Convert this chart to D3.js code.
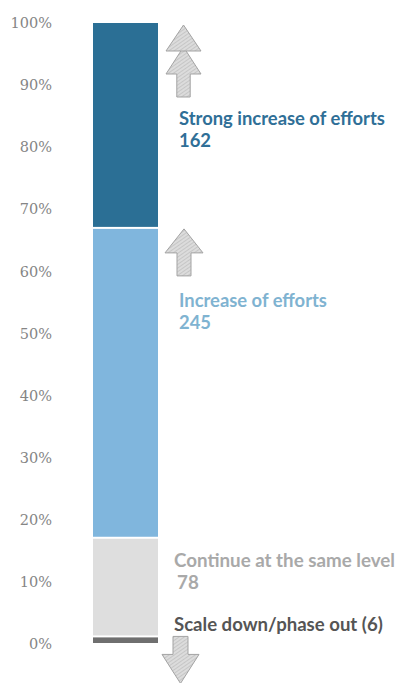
<!DOCTYPE html>
<html>
<head>
<meta charset="utf-8">
<script src="https://cdn.jsdelivr.net/npm/d3@7/dist/d3.min.js"></script>
<style>
  html, body { margin: 0; padding: 0; background: #fff; }
  svg { display: block; }
</style>
</head>
<body>
<svg id="chart" width="396" height="683"></svg>
<script>
// Responses per category, stacked bottom to top
const categories = ["Scale down/phase out", "Continue at the same level", "Increase of efforts", "Strong increase of efforts"];
const counts = [6, 78, 245, 162];
const tickValues = [0, 0.1, 0.2, 0.3, 0.4, 0.5, 0.6, 0.7, 0.8, 0.9, 1.0];
const tickLabels = ["0%", "10%", "20%", "30%", "40%", "50%", "60%", "70%", "80%", "90%", "100%"];

const colors = ["#6f6f6f", "#dedede", "#80b6dd", "#2b6f95"];
const labelColors = ["#555555", "#a9a9a9", "#7fb3d1", "#2f6f97"];

const svg = d3.select("#chart");

const total = d3.sum(counts);
let acc = 0;
const stacked = counts.map((c, i) => {
  const d = { cat: categories[i], count: c, y0: acc / total, y1: (acc + c) / total, i };
  acc += c;
  return d;
});

const y = d3.scaleLinear().domain([0, 1]).range([644, 23]);
const x = d3.scaleBand().domain(["all"]).range([93, 158]).padding(0);

// Y axis: labels only
const axis = d3.axisLeft(y)
  .tickValues(tickValues)
  .tickFormat((d, i) => tickLabels[i])
  .tickSize(0)
  .tickPadding(0);

const gAxis = svg.append("g")
  .attr("transform", "translate(52,0)")
  .call(axis);
gAxis.select(".domain").remove();
gAxis.selectAll("text")
  .attr("font-family", "'DejaVu Serif', serif")
  .attr("font-size", 14.5)
  .attr("fill", "#858585");

// Stacked bar segments with thin white gaps
svg.append("g").selectAll("rect")
  .data(stacked)
  .join("rect")
  .attr("x", x("all"))
  .attr("width", x.bandwidth())
  .attr("y", d => y(d.y1) + (d.i === stacked.length - 1 ? 0 : 1))
  .attr("height", d => Math.max(0, y(d.y0) - y(d.y1) - (d.i === stacked.length - 1 ? 1 : 2)))
  .attr("fill", d => colors[d.i]);

// Hatched fill for arrows
const defs = svg.append("defs");
const pat = defs.append("pattern")
  .attr("id", "hatch")
  .attr("patternUnits", "userSpaceOnUse")
  .attr("width", 3).attr("height", 3)
  .attr("patternTransform", "rotate(55)");
pat.append("rect").attr("width", 3).attr("height", 3).attr("fill", "#dcdcdc");
pat.append("line").attr("x1", 0).attr("y1", 0).attr("x2", 0).attr("y2", 3)
  .attr("stroke", "#b5b5b5").attr("stroke-width", 1.1);

function upArrow(cx, tipY, halfHead, headH, halfShaft, shaftBottom) {
  return `M${cx},${tipY} L${cx + halfHead},${tipY + headH} L${cx + halfShaft},${tipY + headH} ` +
    `L${cx + halfShaft},${shaftBottom} L${cx - halfShaft},${shaftBottom} L${cx - halfShaft},${tipY + headH} ` +
    `L${cx - halfHead},${tipY + headH} Z`;
}
function upHead(cx, tipY, halfHead, headH) {
  return `M${cx},${tipY} L${cx + halfHead},${tipY + headH} L${cx - halfHead},${tipY + headH} Z`;
}
function downArrow(cx, topY, halfShaft, headTop, halfHead, tipY) {
  return `M${cx - halfShaft},${topY} L${cx + halfShaft},${topY} L${cx + halfShaft},${headTop} ` +
    `L${cx + halfHead},${headTop} L${cx},${tipY} L${cx - halfHead},${headTop} L${cx - halfShaft},${headTop} Z`;
}

const arrows = svg.append("g")
  .attr("fill", "url(#hatch)")
  .attr("stroke", "#a3a3a3")
  .attr("stroke-width", 1)
  .attr("stroke-linejoin", "round");

// Strong increase: double arrow
const topY = y(1) + 2;
arrows.append("path").attr("d", upArrow(183.5, topY + 22, 17.5, 27, 6.7, topY + 72));
arrows.append("path").attr("d", upHead(183.5, topY, 17.5, 26));

// Increase: single arrow
const midY = y(stacked[2].y1) + 1;
arrows.append("path").attr("d", upArrow(184, midY, 19, 24, 7, midY + 47));

// Scale down: down arrow
const botY = y(stacked[0].y1);
arrows.append("path").attr("d", downArrow(180.5, botY, 7.5, botY + 18, 18.5, botY + 47));

// Category labels with counts
const labelSpecs = [
  { i: 3, lines: ["Strong increase of efforts", "162"], x: 179, base: [124.5, 146.5], w: 206 },
  { i: 2, lines: ["Increase of efforts", "245"], x: 179, base: [306.5, 328.5], w: 148 },
  { i: 1, lines: ["Continue at the same level", "78"], x: 174, base: [566.5, 589], w: 221, dx2: 3 },
  { i: 0, lines: ["Scale down/phase out (6)"], x: 174, base: [631], w: 209 }
];

labelSpecs.forEach(spec => {
  const g = svg.append("g");
  const first = g.append("text")
    .attr("x", spec.x).attr("y", spec.base[0])
    .attr("font-family", "Lato, sans-serif")
    .attr("font-weight", 700)
    .attr("font-size", 15)
    .attr("fill", labelColors[spec.i])
    .text(spec.lines[0]);
  const len = first.node().getComputedTextLength();
  const fs = 15 * spec.w / len;
  first.attr("font-size", fs);
  if (spec.lines[1]) {
    g.append("text")
      .attr("x", spec.x + (spec.dx2 || 0)).attr("y", spec.base[1])
      .attr("font-family", "Lato, sans-serif")
      .attr("font-weight", 700)
      .attr("font-size", fs)
      .attr("fill", labelColors[spec.i])
      .text(spec.lines[1]);
  }
});
</script>
</body>
</html>
